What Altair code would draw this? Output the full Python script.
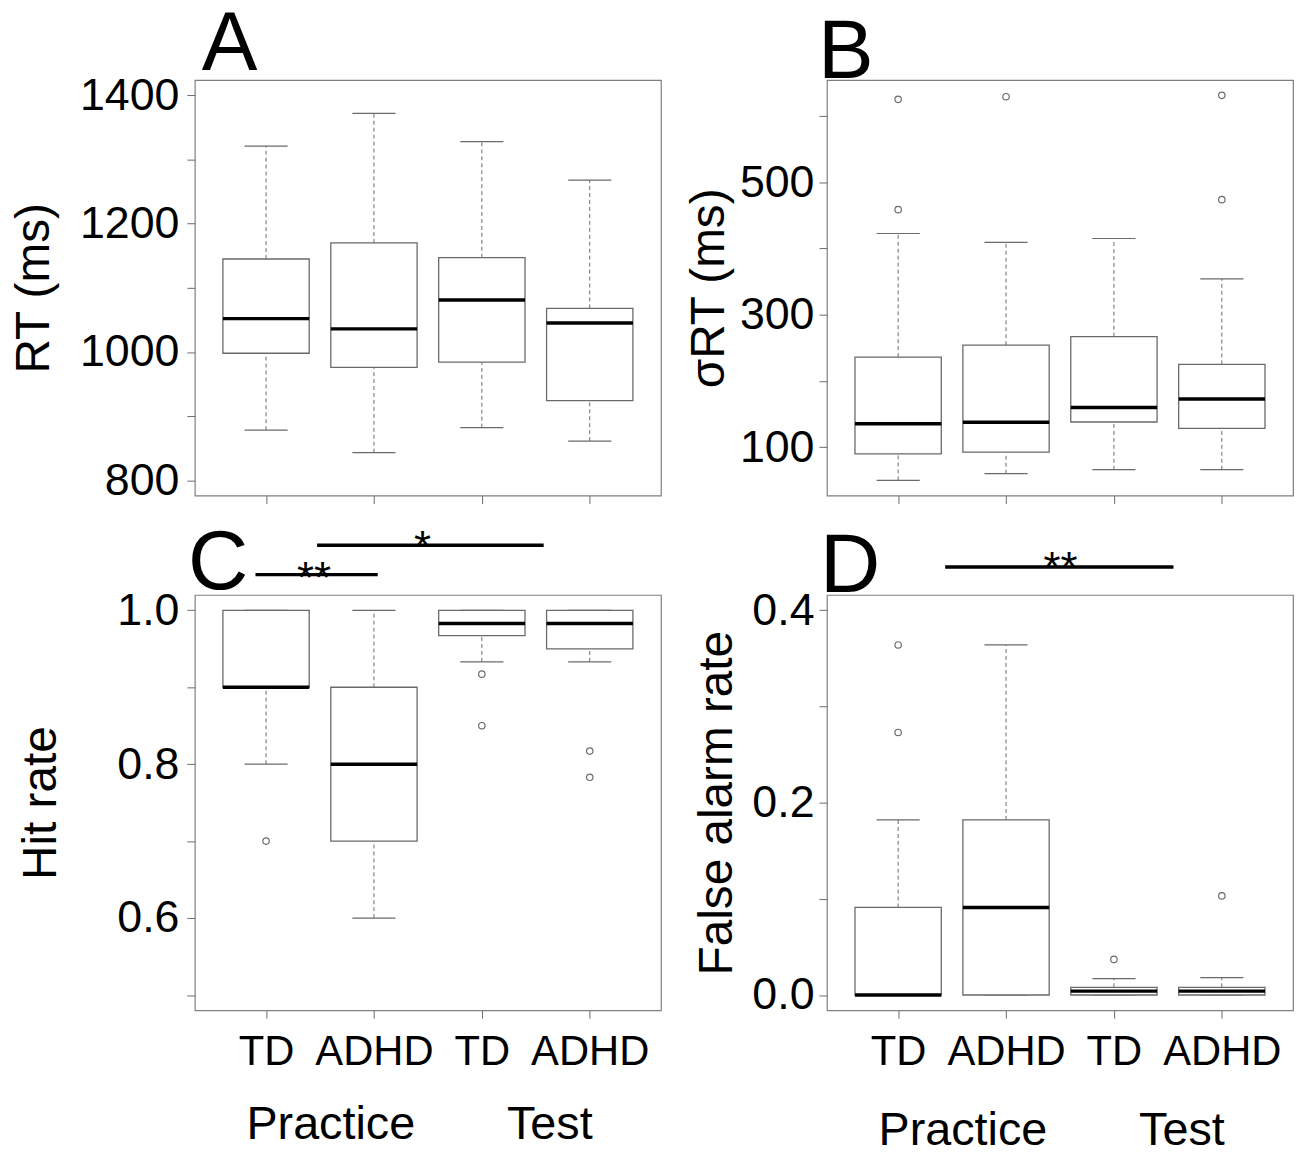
import json
import altair as alt
import pandas as pd

SANS = "Liberation Sans, Arial, Helvetica, sans-serif"
GRAY = "#6a6a6a"
FRAME = "#7f7f7f"

# ---------------- data ----------------
POSITIONS = [1, 2, 3, 4]
TICK_LABELS = ["TD", "ADHD", "TD", "ADHD"]
SESSIONS = ["Practice", "Test"]
SESSION_POS = [1.60, 3.63]
LETTERS = ["A", "B", "C", "D"]

# Panel A: RT (ms)
A_lo = [878, 843, 882, 861]
A_q1 = [998, 976, 984, 924]
A_med = [1052, 1036, 1081, 1045]
A_q3 = [1145, 1170, 1147, 1068]
A_hi = [1321, 1372, 1328, 1268]
A_out = [[], [], [], []]
A_ticks = [800, 900, 1000, 1100, 1200, 1300, 1400]

# Panel B: sigma RT (ms)
B_lo = [50, 60, 66, 66]
B_q1 = [90, 92.5, 138, 128.5]
B_med = [135.5, 137.6, 160, 172.6]
B_q3 = [236, 254, 267, 225]
B_hi = [422.5, 409, 415, 354]
B_out = [[625, 458.5], [629], [], [631, 473.6]]
B_ticks = [100, 200, 300, 400, 500, 600]

# Panel C: Hit rate
C_lo = [0.8, 0.6, 0.933, 0.933]
C_q1 = [0.9, 0.7, 0.967, 0.95]
C_med = [0.9, 0.8, 0.983, 0.983]
C_q3 = [1.0, 0.9, 1.0, 1.0]
C_hi = [1.0, 1.0, 1.0, 1.0]
C_out = [[0.7], [], [0.917, 0.85], [0.817, 0.783]]
C_ticks = [0.5, 0.6, 0.7, 0.8, 0.9, 1.0]
# significance: x from, x to, bar y, label, label x, label y
C_sig = [
    (0.902, 2.035, 1.0464, "**", 1.445, 1.023),
    (1.473, 3.573, 1.0845, "*", 2.45, 1.063),
]

# Panel D: False alarm rate
D_lo = [0, 0, 0, 0]
D_q1 = [0, 0, 0, 0]
D_med = [0, 0.091, 0.004, 0.004]
D_q3 = [0.091, 0.182, 0.008, 0.008]
D_hi = [0.182, 0.364, 0.017, 0.018]
D_out = [[0.364, 0.273], [], [0.037], [0.103]]
D_ticks = [0.0, 0.1, 0.2, 0.3, 0.4]
D_sig = [(1.436, 3.552, 0.445, "**", 2.505, 0.428)]

W, H = 469, 418
XDOM = [0.34, 4.66]


def panel(lo, q1, med, q3, hi, outs, ydom, yticks, yfmt, yexpr, ytitle,
          title_pad, label_pad, show_x, letter, ldx, ldy, sig=None,
          session_y=None):
    df = pd.DataFrame({"pos": POSITIONS, "lo": lo, "q1": q1, "med": med,
                       "q3": q3, "hi": hi})
    xs = alt.Scale(domain=XDOM, nice=False, zero=False)
    ys = alt.Scale(domain=ydom, nice=False, zero=False)
    if show_x:
        xaxis = alt.Axis(values=POSITIONS, title=None, domain=False, grid=False,
                         tickSize=8, tickColor=GRAY, tickWidth=1,
                         labelExpr=json.dumps(TICK_LABELS) + "[datum.value - 1]",
                         labelFont=SANS, labelFontSize=42, labelColor="black",
                         labelPadding=13, labelOverlap=False, labelFlush=False)
    else:
        xaxis = alt.Axis(values=POSITIONS, title=None, domain=False, grid=False,
                         tickSize=8, tickColor=GRAY, tickWidth=1, labels=False)
    yaxis = alt.Axis(values=yticks, format=yfmt, labelExpr=yexpr, title=ytitle,
                     domain=False, grid=False, tickSize=8, tickColor=GRAY,
                     tickWidth=1, labelFont=SANS, labelFontSize=45,
                     labelColor="black", labelPadding=label_pad,
                     labelOverlap=False, labelFlush=False,
                     titleFont=SANS, titleFontSize=48, titleFontWeight="normal",
                     titleColor="black", titlePadding=title_pad)
    X = lambda f: alt.X(f, type="quantitative", scale=xs, axis=xaxis)
    Y = lambda f: alt.Y(f, type="quantitative", scale=ys, axis=yaxis)

    base = alt.Chart(df).transform_calculate(
        xl="datum.pos - 0.4", xr="datum.pos + 0.4",
        cl="datum.pos - 0.2", cr="datum.pos + 0.2")

    whisk_up = base.mark_rule(color=GRAY, strokeWidth=1, strokeDash=[4, 3]).encode(
        x=X("pos"), y=Y("q3"), y2="hi:Q")
    whisk_lo = base.mark_rule(color=GRAY, strokeWidth=1, strokeDash=[4, 3]).encode(
        x=X("pos"), y=Y("lo"), y2="q1:Q")
    cap_up = base.mark_rule(color=GRAY, strokeWidth=1.2).encode(
        x=X("cl"), x2="cr:Q", y=Y("hi"))
    cap_lo = base.mark_rule(color=GRAY, strokeWidth=1.2).encode(
        x=X("cl"), x2="cr:Q", y=Y("lo"))
    box = base.mark_rect(fill="white", stroke=GRAY, strokeWidth=1.3).encode(
        x=X("xl"), x2="xr:Q", y=Y("q1"), y2="q3:Q")
    median = base.mark_rule(color="black", strokeWidth=3.5).encode(
        x=X("xl"), x2="xr:Q", y=Y("med"))
    layers = [whisk_up, whisk_lo, cap_up, cap_lo, box, median]

    orows = [{"pos": p, "v": v} for p, vs in zip(POSITIONS, outs) for v in vs]
    if orows:
        layers.append(alt.Chart(pd.DataFrame(orows)).mark_point(
            shape="circle", filled=False, color=GRAY, size=42, strokeWidth=1.2,
            opacity=1).encode(x=X("pos"), y=Y("v")))

    if sig:
        sdf = pd.DataFrame([{"x1": a, "x2": b, "y": c, "t": t, "tx": tx, "ty": ty}
                            for a, b, c, t, tx, ty in sig])
        layers.append(alt.Chart(sdf).mark_rule(color="black", strokeWidth=3.5,
                                               clip=False).encode(
            x=X("x1"), x2="x2:Q", y=Y("y")))
        layers.append(alt.Chart(sdf).mark_text(font=SANS, fontSize=44,
                                               baseline="alphabetic",
                                               align="center", color="black").encode(
            x=X("tx"), y=Y("ty"), text="t:N"))

    layers.append(alt.Chart(pd.DataFrame({"letter": [letter]})).mark_text(
        font=SANS, fontSize=84, align="left", baseline="alphabetic",
        color="black").encode(text="letter:N", x=alt.value(ldx), y=alt.value(ldy)))

    if session_y is not None:
        gdf = pd.DataFrame({"s": SESSIONS, "p": SESSION_POS})
        layers.append(alt.Chart(gdf).mark_text(
            font=SANS, fontSize=47, align="center", baseline="alphabetic",
            color="black").encode(x=X("p"), y=alt.value(session_y), text="s:N"))

    return alt.layer(*layers).properties(width=W, height=H)


pA = panel(A_lo, A_q1, A_med, A_q3, A_hi, A_out, [776, 1424], A_ticks, "d",
           "datum.value % 200 == 0 ? datum.label : ''", "RT (ms)", 21, 8,
           False, LETTERS[0], 7, -10)
pB = panel(B_lo, B_q1, B_med, B_q3, B_hi, B_out, [27, 654], B_ticks, "d",
           "datum.value % 200 == 100 ? datum.label : ''", "\u03c3RT (ms)", 6, 5,
           False, LETTERS[1], -9, -2)
pC = panel(C_lo, C_q1, C_med, C_q3, C_hi, C_out, [0.48, 1.02], C_ticks, ".1f",
           "round(datum.value * 10) % 2 == 0 ? datum.label : ''", "Hit rate", 52, 8,
           True, LETTERS[2], -7, -6, sig=C_sig, session_y=547)
pD = panel(D_lo, D_q1, D_med, D_q3, D_hi, D_out, [-0.016, 0.416], D_ticks, ".1f",
           "round(datum.value * 10) % 2 == 0 ? datum.label : ''", "False alarm rate",
           10, 5, True, LETTERS[3], -7, -3, sig=D_sig, session_y=553)

chart = alt.concat(pA, pB, pC, pD, columns=2,
                   spacing={"row": 100, "column": 167}, bounds="flush"
).configure_view(
    stroke=FRAME, strokeWidth=1.2, fill="white"
).properties(
    background="white",
    padding={"left": 2, "top": -9, "right": 5, "bottom": 5},
)

chart.save("out.html", embed_options={"renderer": "svg", "actions": False})
